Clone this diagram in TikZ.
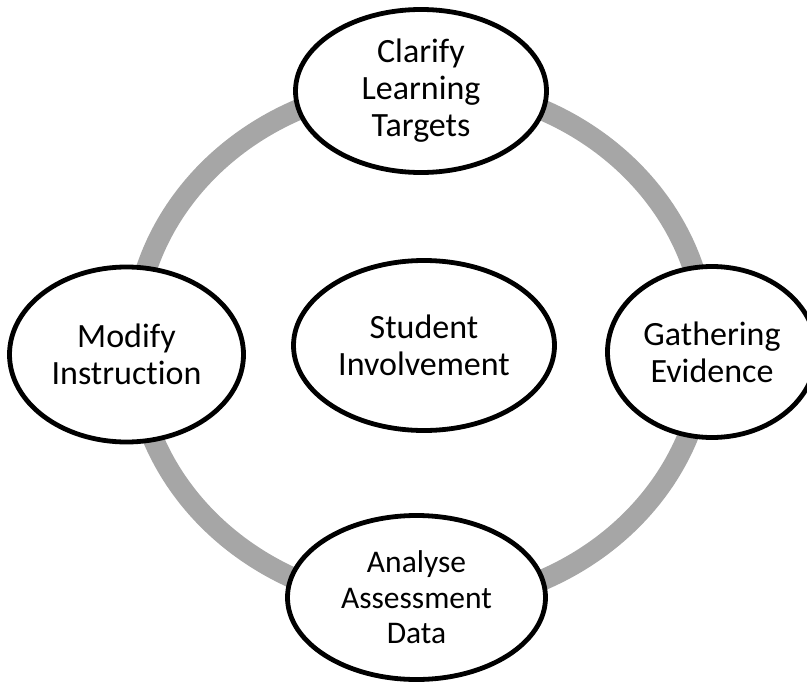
\documentclass[tikz,border=0pt]{standalone}
\usepackage{fontspec}
\setmainfont{Carlito}[Ligatures=NoCommon]
\usetikzlibrary{shapes.geometric}
\definecolor{ringgray}{RGB}{166,166,166}
\tikzset{
  oval/.style={ellipse, draw=black, line width=4.8pt, fill=white, inner sep=0pt, align=center,
    font=\fontsize{34}{37}\selectfont},
  ring/.style={draw=ringgray, line width=21pt}
}
\begin{document}
\begin{tikzpicture}[x=1pt,y=-1pt]
\useasboundingbox (0,0) rectangle (807,683);
\clip (0,0) rectangle (807,683);
\draw[ring] (420,345) ellipse [x radius=286pt, y radius=260pt];
\node[oval, minimum width=251pt, minimum height=163pt] (clarify) at (421,91) {Clarify\\Learning\\Targets};
\node[oval, minimum width=234pt, minimum height=175pt] (modify) at (126.5,354.5) {Modify\\Instruction};
\node[oval, minimum width=209pt, minimum height=171pt] (gather) at (712,352) {Gathering\\Evidence};
\node[oval, minimum width=261pt, minimum height=170pt] (student) at (424,345.5) {Student\\Involvement};
\node[oval, minimum width=258pt, minimum height=164pt, font=\fontsize{31.5}{35.5}\selectfont] (analyse) at (416.5,597.5) {Analyse\\Assessment\\Data};
\end{tikzpicture}
\end{document}
